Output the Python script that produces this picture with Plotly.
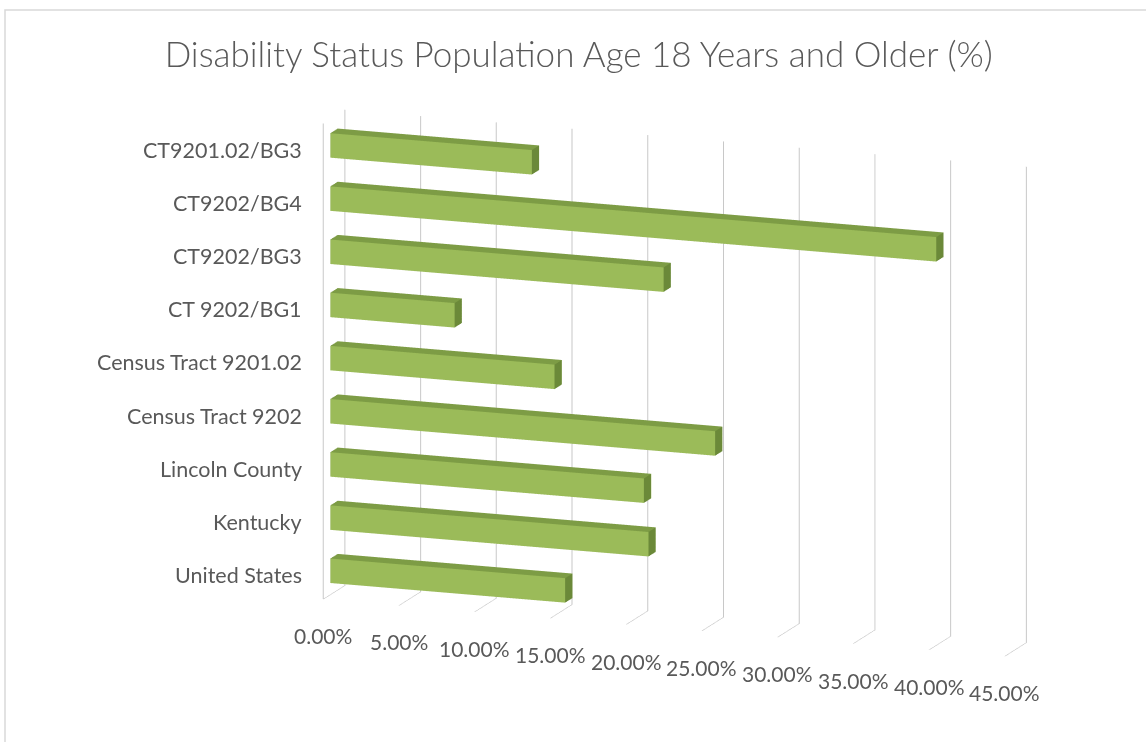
import math
import plotly.graph_objects as go

# ---- data ----
categories = ["United States", "Kentucky", "Lincoln County", "Census Tract 9202",
              "Census Tract 9201.02", "CT 9202/BG1", "CT9202/BG3", "CT9202/BG4",
              "CT9201.02/BG3"]
values = [0.155, 0.210, 0.207, 0.254, 0.148, 0.082, 0.220, 0.400, 0.133]
x_ticks = [0.0, 0.05, 0.10, 0.15, 0.20, 0.25, 0.30, 0.35, 0.40, 0.45]
x_tick_labels = ["0.00%", "5.00%", "10.00%", "15.00%", "20.00%", "25.00%",
                 "30.00%", "35.00%", "40.00%", "45.00%"]
title = "Disability Status Population Age 18 Years and Older (%)"

FRONT = "#9BBB59"
TOP = "#7D9C45"
END = "#6B8939"
GRID = "#C8C8C8"
BORDER = "#D9D9D9"
TXT = "#595959"

x_range = [0.0, 0.4502]
y_range = [0.0, 1.0]           # depth: 0 = front, 1 = back
z_range = [-0.45, len(categories) - 0.5]

bar_half = 0.23
d0, d1 = 0.33, 0.67

X, Y, Z, I, J, K, FC = [], [], [], [], [], [], []
for idx, v in enumerate(values):
    z0, z1 = idx - bar_half, idx + bar_half
    x0, x1 = 0.0, v
    base = len(X)
    pts = [(x0, d0, z0), (x1, d0, z0), (x1, d1, z0), (x0, d1, z0),
           (x0, d0, z1), (x1, d0, z1), (x1, d1, z1), (x0, d1, z1)]
    for p in pts:
        X.append(p[0]); Y.append(p[1]); Z.append(p[2])
    tris = [((0, 1, 5), FRONT), ((0, 5, 4), FRONT),
            ((3, 2, 6), FRONT), ((3, 6, 7), FRONT),
            ((0, 1, 2), TOP), ((0, 2, 3), TOP),
            ((4, 5, 6), TOP), ((4, 6, 7), TOP),
            ((0, 3, 7), END), ((0, 7, 4), END),
            ((1, 2, 6), END), ((1, 6, 5), END)]
    for (a, b, c), col in tris:
        I.append(base + a); J.append(base + b); K.append(base + c); FC.append(col)

fig = go.Figure()
fig.add_trace(go.Mesh3d(
    x=X, y=Y, z=Z, i=I, j=J, k=K, facecolor=FC, flatshading=True,
    lighting=dict(ambient=1.0, diffuse=0.0, specular=0.0, roughness=1.0, fresnel=0.0),
    hoverinfo="skip", showscale=False))

# front-left edge of the side wall
fig.add_trace(go.Scatter3d(x=[x_range[0], x_range[0]], y=[y_range[0], y_range[0]],
                           z=z_range, mode="lines", line=dict(color=GRID, width=2),
                           hoverinfo="skip", showlegend=False))

# labels as scene annotations (horizontal text)
annos = []
for idx, name in enumerate(categories):
    annos.append(dict(x=x_range[0], y=y_range[0], z=idx, text=name, showarrow=False,
                      xanchor="right", yanchor="middle", xshift=-19,
                      font=dict(family="Lato", size=21.5, color=TXT)))
for t, lab in zip(x_ticks, x_tick_labels):
    annos.append(dict(x=t, y=y_range[0], z=z_range[0], text=lab, showarrow=False,
                      xanchor="center", yanchor="top", yshift=-22,
                      font=dict(family="Lato", size=21, color=TXT)))

axis_common = dict(showbackground=False, showspikes=False, zeroline=False,
                   showticklabels=False, ticks="", title=dict(text=""))

theta = math.radians(20.0)
phi = math.radians(13.3)
r = 1.245
eye = dict(x=r * math.sin(theta) * math.cos(phi),
           y=-r * math.cos(theta) * math.cos(phi),
           z=r * math.sin(phi))

zoom = 1.362
fig.update_layout(
    width=1146, height=742,
    paper_bgcolor="white",
    margin=dict(l=0, r=0, t=0, b=0),
    showlegend=False,
    title=dict(text=title, x=0.505, xanchor="center", y=0.926, yanchor="middle",
               yref="container",
               font=dict(family="Lato", size=35, color=TXT, weight=300)),
    font=dict(family="Lato", color=TXT),
    scene=dict(
        domain=dict(x=[0.178, 1.0], y=[0.0, 0.968]),
        aspectmode="manual",
        aspectratio=dict(x=1.484 * zoom, y=0.129 * zoom, z=1.0 * zoom),
        xaxis=dict(range=x_range, tickvals=x_ticks, showgrid=True, gridcolor=GRID,
                   gridwidth=2, **axis_common),
        yaxis=dict(range=y_range, showgrid=False, **axis_common),
        zaxis=dict(range=z_range, showgrid=False, **axis_common),
        camera=dict(eye=eye, center=dict(x=0, y=0, z=0), up=dict(x=0, y=0, z=1),
                    projection=dict(type="orthographic")),
        bgcolor="white",
        annotations=annos,
    ),
    shapes=[dict(type="rect", xref="paper", yref="paper", x0=5 / 1146, x1=1.2,
                 y0=-0.2, y1=1 - 10 / 742, line=dict(color=BORDER, width=1.5),
                 layer="below")],
)

fig.write_html("out.html", config={"displayModeBar": False})
